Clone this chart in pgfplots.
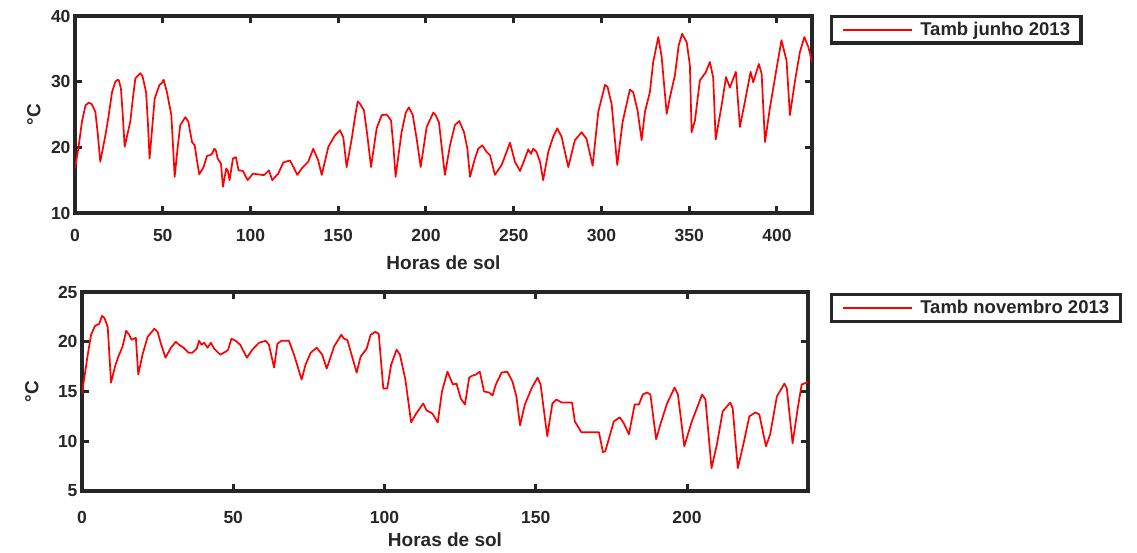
\documentclass[border=0pt]{standalone}
\usepackage{fontspec}
\setmainfont{Liberation Sans}
\usepackage{pgfplots}
\pgfplotsset{compat=1.18}
\definecolor{axcol}{RGB}{38,38,38}
\pgfplotsset{
  mat/.style={
    scale only axis,
    axis line style={line width=3.4pt, axcol},
    every tick/.style={line width=3pt, axcol},
    major tick length=7pt,
    tick align=inside,
    /pgf/number format/assume math mode=true,
    tick label style={font=\bfseries\fontsize{17.5}{18}\selectfont, text=axcol},
    yticklabel style={xshift=-1pt},
    label style={font=\bfseries\fontsize{19}{20}\selectfont, text=axcol},
    legend style={at={(1,1)}, anchor=north west, draw=axcol, line width=3.2pt,
      font=\bfseries\fontsize{18.5}{20}\selectfont, text=axcol,
      inner xsep=11pt, inner ysep=5pt,
      nodes={inner sep=0pt, text height=13.5pt, text depth=3pt},
      /tikz/column sep=7pt},
    legend cell align=left,
    legend image code/.code={\path (0pt,0pt) -- (6pt,0pt); \draw[##1] (6pt,0pt) -- (69pt,0pt);},
    xlabel={Horas de sol}, ylabel={°C},
  },
  line/.style={color=red, line width=1.7pt, mark=none, line join=round},
}
\begin{document}
\begin{tikzpicture}
\useasboundingbox (0,0) rectangle (1137pt,552pt);
\begin{axis}[mat, at={(75pt,339pt)}, anchor=south west, width=737pt, height=197pt,
  xmin=0, xmax=420, ymin=10, ymax=40,
  xtick={0,50,...,400}, ytick={10,20,30,40},
  xticklabel style={yshift=-13pt},
  xlabel style={at={(axis description cs:0.5,-0.254)}, anchor=center},
  ylabel style={at={(axis description cs:-0.056,0.5)}, anchor=center},
  legend style={xshift=18pt, yshift=1pt}]
\addplot[line] coordinates {
(0,16.8) (2,20) (4,24) (6,26.4) (7.8,26.8) (9.5,26.6) (11.6,25.4) (13,22) (14.4,17.8) (17.3,21.8) (19,24.5) (21.1,28.4) (23,30) (24.3,30.3) (25,30.2) (26.2,28.9) (27.2,25) (28.3,20.1) (31.5,23.9) (33,27.5) (34.4,30.5) (37.2,31.3) (38.5,30.8) (40.5,28.4) (41.5,24) (42.5,18.3) (44,23) (45.4,27.4) (48.1,29.5) (49.5,29.8) (50.5,30.3) (52.4,28.4) (54.9,24.9) (55.5,22) (56.8,15.5) (58.5,20) (60.0,23.4) (61,23.8) (62.9,24.6) (64.6,23.9) (66.7,20.8) (68.2,20.3) (69.5,18) (70.8,15.9) (73.3,17.0) (75.2,18.7) (77.8,18.9) (79.4,19.8) (80.3,19.5) (81.3,18.3) (83.2,17.5) (84.3,14.0) (86.2,16.8) (87,16.5) (88.1,15.0) (90.0,18.3) (91.7,18.5) (93.2,16.5) (95.7,16.4) (98.4,15.0) (101.4,16.0) (106.6,15.8) (107.9,15.8) (110.5,16.5) (112.4,15.0) (115.8,16.0) (118.7,17.7) (122.5,18.0) (124.5,17) (126.7,15.8) (129.2,16.8) (132.9,17.8) (135.8,19.8) (138.6,18.0) (140.6,15.8) (144.4,20.1) (148.1,21.8) (151.0,22.6) (152.9,21.5) (154.8,17.0) (157.7,21.3) (159.5,24.5) (161.1,27.0) (162.5,26.6) (164.7,25.6) (166.5,22) (168.7,17.0) (171.9,22.9) (174.8,24.9) (177.6,25.0) (180.1,24.1) (181.5,20) (182.7,15.5) (186.1,22.3) (188.5,25.3) (190.3,26.1) (192.5,24.9) (194.7,21.3) (197.0,17.0) (200.4,23.1) (204.2,25.3) (205.5,24.9) (207.4,23.8) (209,20) (210.8,15.8) (213.7,20.3) (216.5,23.4) (219.0,24.0) (221.7,22.3) (223.6,19.8) (225.1,15.5) (227.9,18.3) (229.8,19.8) (232.1,20.3) (234.6,19.3) (236.5,18.8) (239.3,15.8) (243.1,17.3) (247.9,20.7) (250.7,17.8) (253.6,16.4) (256.4,18.3) (258.3,19.7) (259.8,19.0) (261.1,19.8) (263.0,19.3) (265.0,17.8) (266.8,15.0) (269.7,19.3) (272.5,21.6) (274.8,22.9) (277.3,21.6) (281.1,17.0) (284.9,21.1) (288.7,22.3) (291.5,21.3) (295.0,17.2) (298.2,25.4) (302.0,29.5) (303.5,29.2) (305.8,26.6) (309.0,17.3) (312.1,23.9) (316.2,28.8) (318.1,28.4) (320.6,25.6) (322.9,21.1) (324.8,25.4) (327.6,28.4) (329.5,33.0) (332.4,36.8) (334.3,33.8) (337.2,25.1) (339.0,27.6) (341.9,31.0) (344,35.5) (346.0,37.3) (348.6,36.0) (350.4,32.5) (351.4,22.3) (353.3,24.1) (356.1,30.2) (359.4,31.4) (361.8,33.0) (363.7,30.6) (365.1,21.2) (368.5,26.4) (371.0,30.7) (373.2,29.1) (376.6,31.5) (378.9,23.1) (381.8,27.0) (385.0,31.5) (386.5,29.9) (389.7,32.7) (391.3,31.2) (393.2,20.8) (396.0,26.0) (399.8,32.0) (402.6,36.3) (405.5,33.2) (407.4,24.9) (410.3,30.1) (413.1,34.5) (415.6,36.8) (417.9,35.3) (420,33.0)
};
\addlegendentry{Tamb junho 2013}
\end{axis}
\begin{axis}[mat, at={(82pt,61pt)}, anchor=south west, width=726pt, height=199pt,
  xmin=0, xmax=240, ymin=5, ymax=25,
  xtick={0,50,100,150,200}, ytick={5,10,15,20,25},
  xticklabel style={yshift=-17pt},
  xlabel style={at={(axis description cs:0.5,-0.246)}, anchor=center},
  ylabel style={at={(axis description cs:-0.069,0.5)}, anchor=center},
  legend style={xshift=22pt, yshift=-1pt}]
\addplot[line] coordinates {
(0,14.8) (1.9,18.7) (3.0,20.7) (4.3,21.6) (5.7,21.8) (6.6,22.6) (7.4,22.4) (8.5,21.5) (9.6,15.9) (10.9,17.5) (12.0,18.5) (13.4,19.5) (14.6,21.1) (15.6,20.7) (16.4,20.2) (17.1,20.3) (17.8,20.4) (18.6,16.7) (20.0,18.7) (21.7,20.5) (23.9,21.3) (25.0,21.0) (26.1,19.8) (27.6,18.4) (29.4,19.4) (31.0,20.0) (32.1,19.7) (33.6,19.4) (35.2,18.9) (36.5,18.9) (37.9,19.3) (38.7,20.1) (39.5,19.7) (40.4,19.9) (41.5,19.4) (42.6,19.9) (43.7,19.3) (45.7,18.7) (47.5,19.0) (48.3,19.2) (49.4,20.3) (50.8,20.1) (52.3,19.7) (54.5,18.4) (56.3,19.2) (58.5,19.9) (60.7,20.1) (61.8,19.7) (63.5,17.4) (64.6,19.8) (65.9,20.1) (68.4,20.1) (70.1,18.7) (72.6,16.2) (73.9,17.7) (75.6,18.9) (77.6,19.4) (79.4,18.7) (80.9,17.3) (83.3,19.5) (85.7,20.7) (86.6,20.3) (87.7,20.2) (90.8,16.9) (92.1,18.5) (94.1,19.3) (95.4,20.7) (97.0,21.0) (98.1,20.8) (99.6,15.3) (100.9,15.3) (102.2,17.7) (104.0,19.2) (105.1,18.7) (106.9,16.2) (108.8,11.9) (110.3,12.7) (112.8,13.8) (113.9,13.1) (115.8,12.8) (117.6,11.9) (119.0,15.0) (120.8,17.0) (122.6,15.7) (123.8,15.8) (125.2,14.3) (126.6,13.7) (128.0,16.4) (129.1,16.6) (130.2,16.7) (131.5,17.0) (132.9,15.0) (134.6,14.9) (135.7,14.6) (136.8,15.7) (138.7,16.9) (140.6,17.0) (142.3,16.0) (143.6,14.5) (144.8,11.6) (146.4,13.7) (148.6,15.3) (150.6,16.4) (151.6,15.7) (153.8,10.5) (155.5,13.8) (156.8,14.2) (158.5,13.9) (162.0,13.9) (162.9,12.0) (165.1,10.9) (170.9,10.9) (172.2,8.9) (173.0,9.0) (175.8,12.0) (177.8,12.4) (179.1,11.8) (180.8,10.7) (182.7,13.7) (184.1,13.7) (185.4,14.7) (186.8,14.9) (187.9,14.7) (189.8,10.2) (191.2,11.7) (193.4,13.8) (195.9,15.4) (197.0,14.7) (199.1,9.5) (201.6,12.0) (205.0,14.7) (206.1,14.2) (208.1,7.3) (209.9,9.7) (211.8,13.0) (214.3,13.9) (215.1,13.3) (216.8,7.3) (218.7,9.8) (220.6,12.5) (222.6,12.9) (223.9,12.7) (226.1,9.5) (227.5,10.7) (229.7,14.5) (232.2,15.8) (233.0,15.3) (234.9,9.8) (236.6,13.3) (237.9,15.7) (239.6,15.9) (240,15.9)
};
\addlegendentry{Tamb novembro 2013}
\end{axis}
\end{tikzpicture}
\end{document}
